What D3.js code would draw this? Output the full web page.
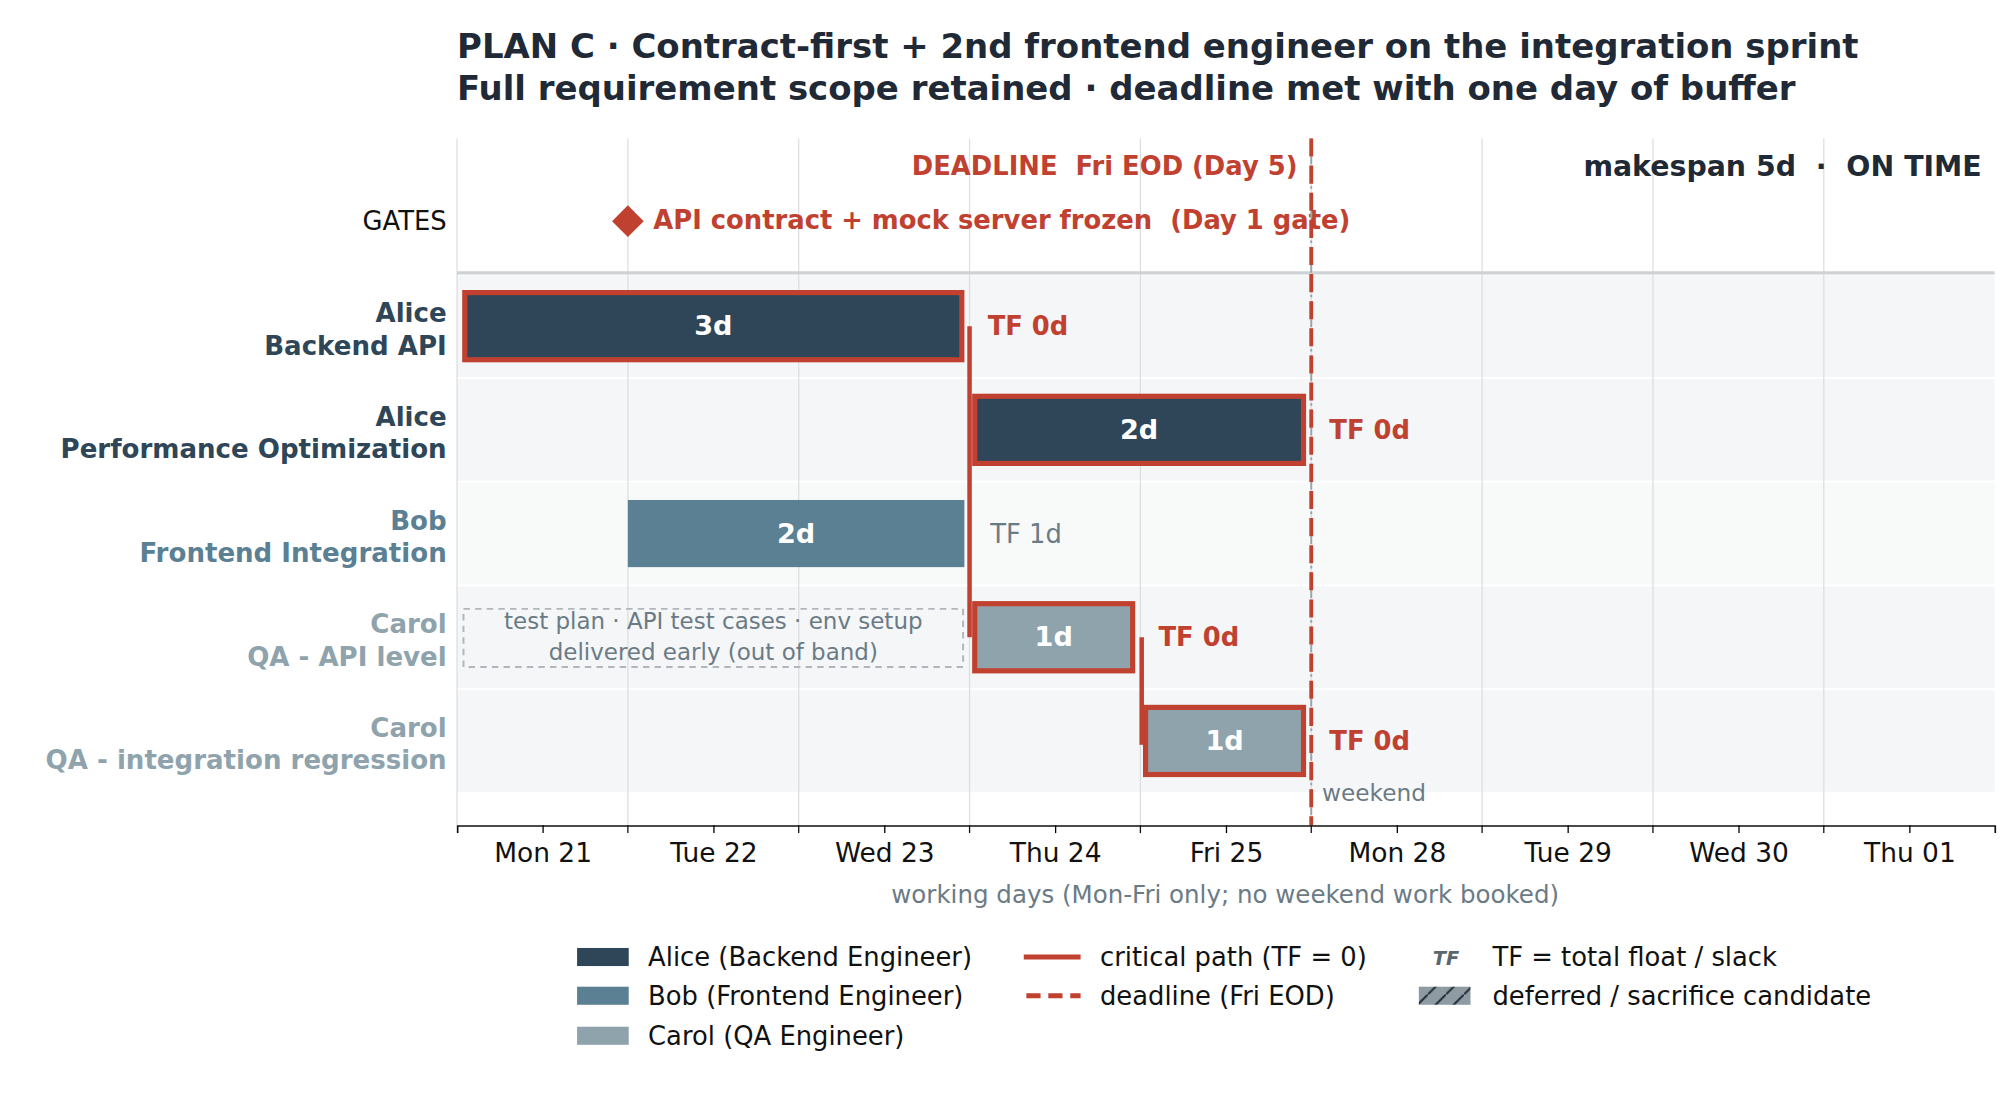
<!DOCTYPE html>
<html><head><meta charset="utf-8">
<script src="https://cdn.jsdelivr.net/npm/d3@7"></script>
<style>body{margin:0;background:#fff}text{font-family:"DejaVu Sans",sans-serif;white-space:pre}</style>
</head><body><svg id="c" width="2014" height="1111" viewBox="0 0 1560 860"></svg>
<script>
const dayLabels=["Mon 21","Tue 22","Wed 23","Thu 24","Fri 25","Mon 28","Tue 29","Wed 30","Thu 01"];
const rowPeople=["Alice","Alice","Bob","Carol","Carol"];
const rowTasks=["Backend API","Performance Optimization","Frontend Integration","QA - API level","QA - integration regression"];
const taskStart=[0,3,1,3,4];
const taskDur=[3,2,2,1,1];
const taskFloat=[0,0,1,0,0];
const personColor={Alice:"#2e4657",Bob:"#5b7f93",Carol:"#8fa3ad"};
const RED="#c0412f",DARK="#1f2a36",GRAY="#6b7b85";
const svg=d3.select("#c");
const x=d3.scaleLinear().domain([0,9]).range([354,1545]);
const y=d3.scaleBand().domain(d3.range(5)).range([213,613]).paddingInner(0.02);
svg.append("text").attr("x",354).attr("y",45).attr("font-size",26.3).attr("font-weight","bold").attr("fill",DARK).text("PLAN C · Contract-first + 2nd frontend engineer on the integration sprint");
svg.append("text").attr("x",354).attr("y",77).attr("font-size",26.3).attr("font-weight","bold").attr("fill",DARK).text("Full requirement scope retained · deadline met with one day of buffer");
svg.selectAll(".band").data(d3.range(5)).join("rect").attr("x",354).attr("width",1191)
 .attr("y",i=>y(i)).attr("height",y.bandwidth()).attr("fill",i=>i==2?"#f8f9f9":"#f4f6f8");
svg.selectAll(".g").data(d3.range(1,9)).join("line").attr("x1",d=>x(d)).attr("x2",d=>x(d)).attr("y1",107).attr("y2",639).attr("stroke","#dcdfe2").attr("stroke-width",1);
svg.append("line").attr("x1",354).attr("x2",354).attr("y1",107).attr("y2",639).attr("stroke","#dcdfe2");
svg.append("line").attr("x1",354).attr("x2",1545).attr("y1",211).attr("y2",211).attr("stroke","#cfd2d5").attr("stroke-width",2.5);
svg.append("text").attr("x",346).attr("y",178).attr("text-anchor","end").attr("font-size",20).attr("fill","#111").text("GATES");
svg.append("path").attr("d",d3.symbol(d3.symbolSquare,300)()).attr("transform",`translate(${x(1)},171) rotate(45)`).attr("fill",RED);
svg.append("text").attr("x",506).attr("y",177).attr("font-size",20).attr("font-weight","bold").attr("fill",RED).text("API contract + mock server frozen  (Day 1 gate)");
svg.append("text").attr("x",1005).attr("y",135).attr("text-anchor","end").attr("font-size",20).attr("font-weight","bold").attr("fill",RED).text("DEADLINE  Fri EOD (Day 5)");
svg.append("text").attr("x",1535).attr("y",136).attr("text-anchor","end").attr("font-size",22).attr("font-weight","bold").attr("fill",DARK).text("makespan 5d  ·  ON TIME");
d3.range(5).forEach(i=>{
 const cy=y(i)+y.bandwidth()/2, c=personColor[rowPeople[i]];
 const t=svg.append("text").attr("text-anchor","end").attr("font-size",20.2).attr("font-weight","bold").attr("fill",c);
 t.append("tspan").attr("x",346).attr("y",cy-3).text(rowPeople[i]);
 t.append("tspan").attr("x",346).attr("y",cy+22).text(rowTasks[i]);
});
const cyOf=i=>y(i)+y.bandwidth()/2;
{const cy=cyOf(3);
svg.append("rect").attr("x",x(0)+5).attr("y",cy-22).attr("width",x(3)-x(0)-10).attr("height",45).attr("fill","none").attr("stroke","#b0b6bb").attr("stroke-width",1.5).attr("stroke-dasharray","5,4");
svg.append("text").attr("x",x(1.5)).attr("y",cy-6).attr("text-anchor","middle").attr("font-size",17.8).attr("fill",GRAY).text("test plan · API test cases · env setup");
svg.append("text").attr("x",x(1.5)).attr("y",cy+18).attr("text-anchor","middle").attr("font-size",17.8).attr("fill",GRAY).text("delivered early (out of band)");}
svg.append("line").attr("x1",x(3)).attr("x2",x(3)).attr("y1",cyOf(0)).attr("y2",cyOf(3)).attr("stroke",RED).attr("stroke-width",3.5);
svg.append("line").attr("x1",x(4)+1).attr("x2",x(4)+1).attr("y1",cyOf(3)).attr("y2",cyOf(4)+3).attr("stroke",RED).attr("stroke-width",3.5);
d3.range(5).forEach(i=>{
 const crit=taskFloat[i]==0, cy=cyOf(i), h=52;
 const x0=x(taskStart[i])+(crit?4:0)+(taskStart[i]==0?2:0), x1=x(taskStart[i]+taskDur[i])-(crit?6:4);
 svg.append("rect").attr("x",x0).attr("y",cy-h/2).attr("width",x1-x0).attr("height",h).attr("fill",personColor[rowPeople[i]])
  .attr("stroke",crit?RED:"none").attr("stroke-width",4);
 svg.append("text").attr("x",(x0+x1)/2).attr("y",cy+7).attr("text-anchor","middle").attr("font-size",21).attr("font-weight","bold").attr("fill","#fff").text(taskDur[i]+"d");
 svg.append("text").attr("x",x1+20).attr("y",cy+7).attr("font-size",20).attr("font-weight",crit?"bold":"normal").attr("fill",crit?RED:GRAY).text("TF "+taskFloat[i]+"d");
});
svg.append("line").attr("x1",x(5)).attr("x2",x(5)).attr("y1",107).attr("y2",639).attr("stroke","#9aa3aa").attr("stroke-width",1.5).attr("stroke-dasharray","6,3,2,3");
svg.append("line").attr("x1",x(5)).attr("x2",x(5)).attr("y1",107).attr("y2",639).attr("stroke",RED).attr("stroke-width",3).attr("stroke-dasharray","14,7");
svg.append("text").attr("x",1024).attr("y",620).attr("font-size",18).attr("fill",GRAY).text("weekend");
const xa=d3.axisBottom(d3.scaleLinear().domain([0,9]).range([354,1545])).tickValues(d3.range(9).map(d=>d+0.5)).tickFormat((d,i)=>dayLabels[i]).tickSize(6).tickPadding(8);
const ag=svg.append("g").attr("transform","translate(0,639)").call(xa);
ag.select(".domain").attr("stroke","#111").attr("stroke-width",1.3);
ag.selectAll("text").attr("font-size",20.5).attr("fill","#111").attr("font-family","DejaVu Sans");
svg.append("g").selectAll("line").data(d3.range(1,9)).join("line").attr("x1",d=>x(d)).attr("x2",d=>x(d)).attr("y1",639).attr("y2",645).attr("stroke","#111");
svg.append("text").attr("x",949).attr("y",699).attr("text-anchor","middle").attr("font-size",19).attr("fill",GRAY).text("working days (Mon-Fri only; no weekend work booked)");
const legY=[741,771,802];
[["Alice (Backend Engineer)","#2e4657"],["Bob (Frontend Engineer)","#5b7f93"],["Carol (QA Engineer)","#8fa3ad"]].forEach((d,i)=>{
 svg.append("rect").attr("x",447).attr("y",legY[i]-7).attr("width",40).attr("height",14).attr("fill",d[1]);
 svg.append("text").attr("x",502).attr("y",legY[i]+7).attr("font-size",20).attr("fill","#111").text(d[0]);
});
svg.append("line").attr("x1",793).attr("x2",837).attr("y1",741).attr("y2",741).attr("stroke",RED).attr("stroke-width",4);
svg.append("line").attr("x1",795).attr("x2",837).attr("y1",771).attr("y2",771).attr("stroke",RED).attr("stroke-width",4).attr("stroke-dasharray","11,6");
svg.append("text").attr("x",852).attr("y",748).attr("font-size",20).attr("fill","#111").text("critical path (TF = 0)");
svg.append("text").attr("x",852).attr("y",778).attr("font-size",20).attr("fill","#111").text("deadline (Fri EOD)");
svg.append("text").attr("x",1120).attr("y",747).attr("text-anchor","middle").attr("font-size",15).attr("font-weight","bold").attr("font-style","italic").attr("fill","#5b6770").text("TF");
const defs=svg.append("defs");
const pat=defs.append("pattern").attr("id","hatch").attr("patternUnits","userSpaceOnUse").attr("width",14).attr("height",14);
pat.append("rect").attr("width",14).attr("height",14).attr("fill","#8f9ba3");
pat.append("path").attr("d","M0,14 L14,0").attr("stroke","#1f2a36").attr("stroke-width",1.5);
svg.append("rect").attr("x",1099).attr("y",764).attr("width",40).attr("height",14).attr("fill","url(#hatch)");
svg.append("text").attr("x",1156).attr("y",748).attr("font-size",20).attr("fill","#111").text("TF = total float / slack");
svg.append("text").attr("x",1156).attr("y",778).attr("font-size",20).attr("fill","#111").text("deferred / sacrifice candidate");
</script></body></html>
